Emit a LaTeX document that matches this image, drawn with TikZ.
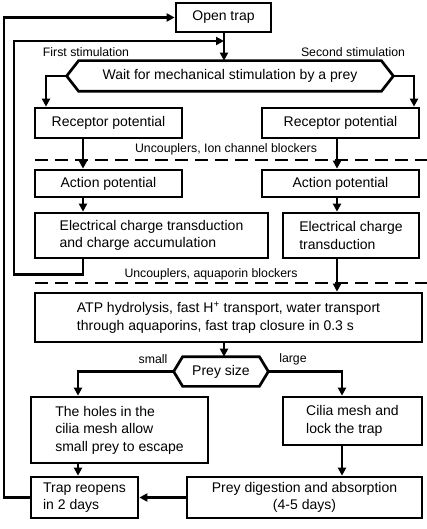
\documentclass[tikz,border=0pt]{standalone}
\usepackage{fontspec}
\setmainfont{Liberation Sans}
\usetikzlibrary{arrows.meta,calc}
\begin{document}
\begin{tikzpicture}[x=1pt,y=-1pt,
  line width=2.7pt,
  box/.style={draw, rectangle, inner sep=0pt, align=left, font=\fontsize{14}{17.5}\selectfont},
  boxc/.style={box, align=center},
  hexn/.style={rectangle, inner sep=0pt, font=\fontsize{14}{17.5}\selectfont},
  lab/.style={inner sep=0pt, font=\fontsize{12.3}{15}\selectfont},
  arr/.style={-{Triangle[length=8pt,width=8pt]}},
  dashline/.style={dash pattern=on 13pt off 7pt},
]
\useasboundingbox (0,0) rectangle (427,529);

% column coordinates
\coordinate (cT) at (224,0);
\coordinate (cL) at (83,0);
\coordinate (cR) at (337,0);
\coordinate (bL) at (46,0);
\coordinate (bR) at (414,0);
\coordinate (sL) at (78,0);
\coordinate (sR) at (342,0);
\coordinate (loopI) at (14,41);
\coordinate (jI) at (224,41);
\coordinate (loopO) at (4,17.5);

% nodes
\node[boxc, minimum width=95pt, minimum height=29pt] (open) at (223.5,17.5) {Open trap};
\node[hexn, minimum width=324pt, minimum height=28pt] (wait) at (230,76) {Wait for mechanical stimulation by a prey};
\draw (wait.west) -- ($(wait.north west)+(12,0)$) -- ($(wait.north east)+(-12,0)$) -- (wait.east)
  -- ($(wait.south east)+(-12,0)$) -- ($(wait.south west)+(12,0)$) -- cycle;

\node[lab] (first) at (86,52) {First stimulation};
\node[lab] (second) at (353,52) {Second stimulation};

\node[boxc, minimum width=147pt, minimum height=30pt] (recL) at (108.5,123) {Receptor potential};
\node[boxc, minimum width=157pt, minimum height=30pt] (recR) at (340.5,123) {Receptor potential};

\node[lab] (unc1) at (226,149) {Uncouplers, Ion channel blockers};
\coordinate (d1a) at (35,160);
\coordinate (d1b) at (427,160);
\draw[dashline] (d1a) -- (d1b);

\node[boxc, minimum width=147pt, minimum height=27pt] (actL) at (108.5,183.5) {Action potential};
\node[boxc, minimum width=157pt, minimum height=27pt] (actR) at (340.5,183.5) {Action potential};

\node[box, minimum width=233pt, minimum height=45pt] (elecL) at (151.5,235.5) {Electrical charge transduction\\and charge accumulation};
\node[box, minimum width=136pt, minimum height=45pt] (elecR) at (351,235.5) {Electrical charge\\transduction};

\node[lab] (unc2) at (211,274) {Uncouplers, aquaporin blockers};
\coordinate (d2a) at (35,283);
\coordinate (d2b) at (427,283);
\draw[dashline] (d2a) -- (d2b);

\node[box, minimum width=387pt, minimum height=49pt] (atp) at (228.5,317.5) {ATP hydrolysis, fast H\textsuperscript{+} transport, water transport\\through aquaporins, fast trap closure in 0.3 s};

\node[hexn, minimum width=92pt, minimum height=27pt] (prey) at (221,371.5) {Prey size};
\draw (prey.west) -- ($(prey.north west)+(9,0)$) -- ($(prey.north east)+(-9,0)$) -- (prey.east)
  -- ($(prey.south east)+(-9,0)$) -- ($(prey.south west)+(9,0)$) -- cycle;
\node[lab] (small) at (153,359) {small};
\node[lab] (large) at (293,359) {large};

\node[box, minimum width=177pt, minimum height=66pt] (holes) at (119.5,430) {The holes in the\\cilia mesh allow\\small prey to escape};
\node[box, minimum width=139pt, minimum height=48pt] (cilia) at (352.5,421) {Cilia mesh and\\lock the trap};
\node[box, minimum width=107pt, minimum height=41pt] (reopen) at (84.5,497.5) {Trap reopens\\in 2 days};
\node[boxc, minimum width=235pt, minimum height=41pt] (digest) at (304.5,497.5) {Prey digestion and absorption\\(4-5 days)};

% connectors
\draw[arr] (open.south -| cT) -- (wait.north -| cT);
\draw[arr] (wait.west) -| (recL.north -| bL);
\draw[arr] (wait.east) -| (recR.north -| bR);
\draw[arr] (recL.south -| cL) -- (actL.north -| cL);
\draw[arr] (recR.south -| cR) -- (actR.north -| cR);
\draw[arr] (actL.south -| cL) -- (elecL.north -| cL);
\draw[arr] (actR.south -| cR) -- (elecR.north -| cR);
\draw[arr] (elecR.south -| cR) -- (atp.north -| cR);
\draw[arr] (elecL.south -| cL) -- ++(0,15) -| (loopI) -- (jI);
\draw[arr] (atp.south -| cT) -- (prey.north -| cT);
\draw[arr] (prey.west) -| (holes.north -| sL);
\draw[arr] (prey.east) -| (cilia.north -| sR);
\draw[arr] (holes.south -| sL) -- (reopen.north -| sL);
\draw[arr] (cilia.south -| sR) -- (digest.north -| sR);
\draw[arr] (digest.west) -- (reopen.east);
\draw[arr] (reopen.west) -| (loopO) -- (open.west);
\end{tikzpicture}
\end{document}
